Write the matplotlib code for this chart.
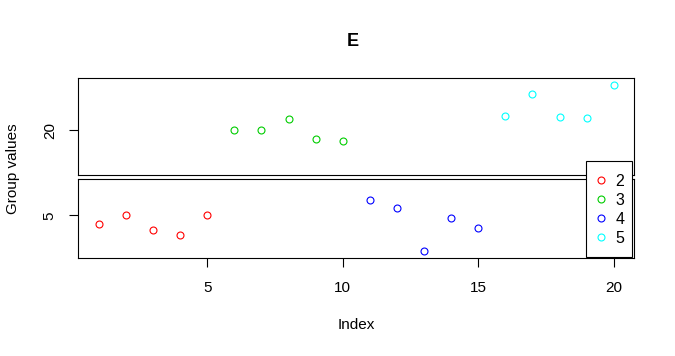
import matplotlib
matplotlib.use('Agg')
import matplotlib.pyplot as plt
from matplotlib.lines import Line2D
from matplotlib.patches import Rectangle

plt.rcParams['font.family'] = ['Liberation Sans', 'DejaVu Sans']

# ---- data ----
index = list(range(1, 21))
group = ['2'] * 5 + ['3'] * 5 + ['4'] * 5 + ['5'] * 5
values = [4.50, 5.00, 4.17, 3.89, 5.00,
          20.00, 20.00, 20.61, 19.50, 19.39,
          5.83, 5.39, 3.00, 4.83, 4.28,
          20.78, 22.00, 20.72, 20.67, 22.50]
legend_groups = ['2', '3', '4', '5']
group_colors = {'2': '#FF0000', '3': '#00CD00', '4': '#0000FF', '5': '#00FFFF'}
gap = (7.0, 17.5)
x_ticks = [5, 10, 15, 20]
low_ticks = [5]
high_ticks = [20]

W, H = 675, 356
fig = plt.figure(figsize=(W / 100, H / 100), dpi=100)

left, right = 78.3, 634.3
ax_top = fig.add_axes([left / W, 1 - 175.3 / H, (right - left) / W, 97.0 / H])
ax_bot = fig.add_axes([left / W, 1 - 258.3 / H, (right - left) / W, 79.0 / H])

for xi, v, g in zip(index, values, group):
    ax = ax_bot if v < gap[0] else ax_top
    ax.plot([xi], [v], linestyle='none', marker='o', markersize=5,
            markerfacecolor='none', markeredgecolor=group_colors[g],
            markeredgewidth=0.8)

for ax in (ax_top, ax_bot):
    ax.set_xlim(0.24, 20.76)
    for s in ax.spines.values():
        s.set_linewidth(0.8)
        s.set_color('black')
    ax.tick_params(axis='both', length=6.5, width=0.8, labelsize=11,
                   colors='black')
    ax.tick_params(axis='y', labelrotation=90, pad=9)

ax_bot.set_ylim(2.611, gap[0])
ax_top.set_ylim(gap[1], 22.889)
ax_bot.set_yticks(low_ticks)
ax_bot.set_yticklabels([str(t) for t in low_ticks])
ax_top.set_yticks(high_ticks)
ax_top.set_yticklabels([str(t) for t in high_ticks])
for ax in (ax_top, ax_bot):
    for lab in ax.get_yticklabels():
        lab.set_va('center')

ax_top.set_xticks([])
ax_bot.set_xticks(x_ticks)
ax_bot.set_xticklabels([str(t) for t in x_ticks])
ax_bot.tick_params(axis='x', pad=10)

fig.text(353 / W, 1 - 41 / H, 'E', ha='center', va='center',
         fontsize=13, fontweight='bold')
fig.text(356 / W, 1 - 325.3 / H, 'Index', ha='center', va='center', fontsize=11)
fig.text(13 / W, 1 - 168.3 / H, 'Group values', ha='center', va='center',
         rotation=90, fontsize=11)

# legend frame
lx0, ly0, lx1, ly1 = 586.3, 161.0, 631.7, 256.7
frame = Rectangle((lx0 / W, 1 - ly1 / H), (lx1 - lx0) / W, (ly1 - ly0) / H,
                  transform=fig.transFigure, facecolor='white',
                  edgecolor='black', linewidth=0.8, zorder=3)
fig.add_artist(frame)

handles = [Line2D([], [], linestyle='none', marker='o', markersize=5,
                  markerfacecolor='none', markeredgecolor=group_colors[g],
                  markeredgewidth=0.8) for g in legend_groups]
F = 11.5 * 100 / 72.0
hl = 0.8
leg = fig.legend(handles, legend_groups, loc='upper left',
                 bbox_to_anchor=((601.3 - hl * F / 2) / W, 1 - 174.0 / H),
                 borderaxespad=0, borderpad=0, frameon=False,
                 fontsize=11.5, handlelength=hl,
                 handletextpad=(615.7 - 601.3 - hl * F / 2) / F,
                 labelspacing=0.25)
leg.set_zorder(4)

fig.savefig('out.png', dpi=100)
